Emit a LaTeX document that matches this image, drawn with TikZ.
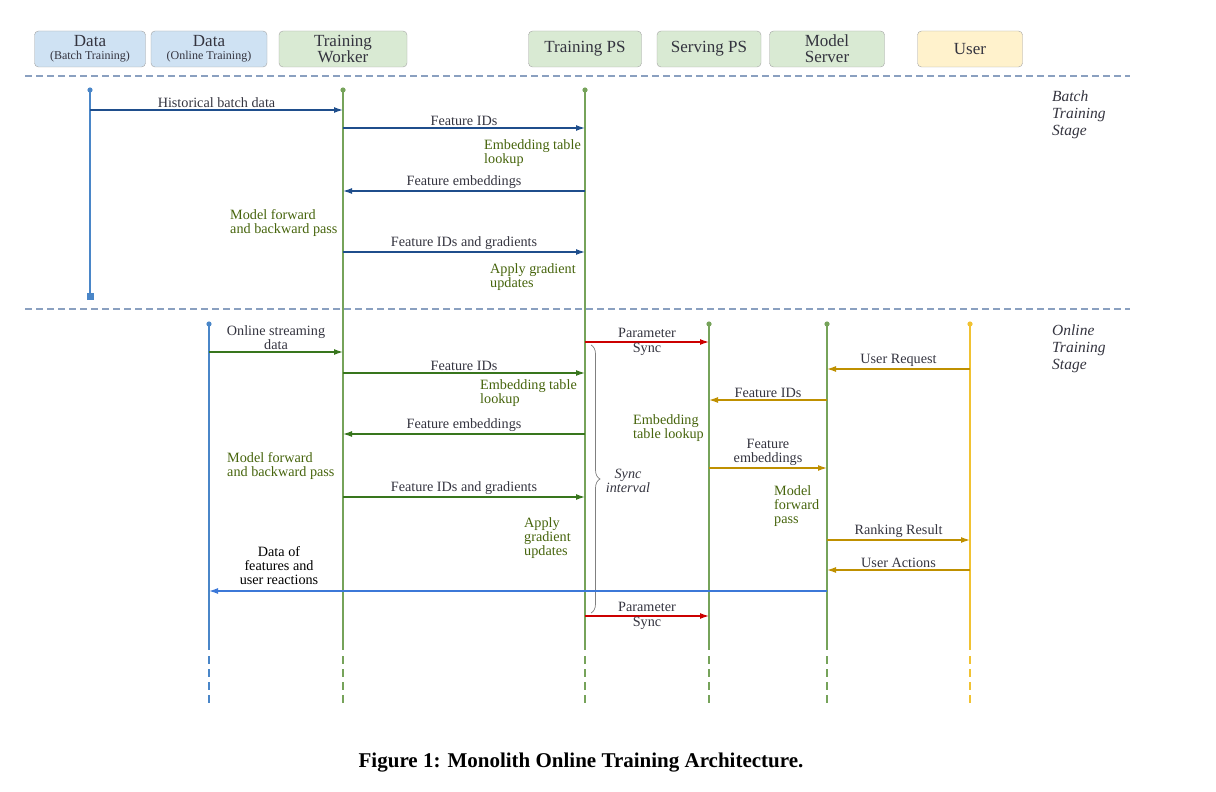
\documentclass[tikz,border=0pt]{standalone}
\usepackage{fontspec}
\setmainfont{Liberation Serif}
\usetikzlibrary{arrows.meta,positioning,decorations.pathreplacing}

\definecolor{boxgray}{HTML}{A3A3A3}
\definecolor{bluefill}{HTML}{CFE2F3}
\definecolor{greenfill}{HTML}{D9EAD3}
\definecolor{yellowfill}{HTML}{FFF2CC}
\definecolor{lifeblue}{HTML}{4A86C8}
\definecolor{lifegreen}{HTML}{76A35A}
\definecolor{lifeyellow}{HTML}{F1C232}
\definecolor{batchblue}{HTML}{1F4E8C}
\definecolor{feedblue}{HTML}{3C78D8}
\definecolor{onlinegreen}{HTML}{38761D}
\definecolor{gold}{HTML}{BF9000}
\definecolor{syncred}{HTML}{CC0000}
\definecolor{sepcol}{HTML}{8AA0C0}
\definecolor{txtgray}{HTML}{34343F}
\definecolor{annot}{HTML}{46640C}

\newcommand{\lblfont}{\fontsize{14.2}{14}\selectfont}

\begin{document}
\begin{tikzpicture}[x=1pt, y=-1pt,
	head/.style={rectangle, rounded corners=4pt, draw=boxgray, minimum height=36pt, align=center, inner sep=1pt, text=txtgray, font=\fontsize{17}{16}\selectfont},
	life/.style={line width=1.5pt},
	tail/.style={line width=1.5pt, dash pattern=on 8pt off 5pt},
	msg/.style={line width=1.3pt, -{Latex[length=9pt,width=6pt]}},
	lbl/.style={font=\lblfont, text=txtgray, inner sep=1.5pt, align=center},
	note/.style={font=\lblfont, text=annot, inner sep=0pt, align=left, anchor=west},
	stage/.style={font=\fontsize{15.5}{17}\selectfont\itshape, text=txtgray, inner sep=0pt, align=left, anchor=west}]

	\useasboundingbox (0,0) rectangle (1216,792);

	% Participants
	\node[head, fill=bluefill, minimum width=111pt] (dbb) at (90,49) {Data\\[-3pt]{\fontsize{12}{12}\selectfont (Batch Training)}};
	\node[head, fill=bluefill, minimum width=116pt] (dbo) at (209,49) {Data\\[-3pt]{\fontsize{12}{12}\selectfont (Online Training)}};
	\node[head, fill=greenfill, minimum width=128pt] (tw) at (343,49) {Training\\Worker};
	\node[head, fill=greenfill, minimum width=113pt] (tps) at (585,49) {Training PS};
	\node[head, fill=greenfill, minimum width=104pt] (sps) at (709,49) {Serving PS};
	\node[head, fill=greenfill, minimum width=115pt] (ms) at (827,49) {Model\\Server};
	\node[head, fill=yellowfill, minimum width=105pt] (usr) at (970,49) {User};

	% Stage separators
	\draw[sepcol, line width=1.2pt, dash pattern=on 7pt off 4pt] (25,76) -- (1130,76);
	\draw[sepcol, line width=1.2pt, dash pattern=on 7pt off 4pt] (25,309) -- (1130,309);
	\node[stage] (bstage) at (1052,115) {Batch\\Training\\Stage};
	\node[stage] (ostage) at (1052,349) {Online\\Training\\Stage};

	% Lifelines
	\draw[life, lifeblue] (dbb |- 0,90) -- (dbb |- 0,296);
	\fill[lifeblue] (dbb |- 0,90) circle (2.6pt);
	\fill[lifeblue] ([shift={(-3.5,-3.5)}]dbb |- 0,296) rectangle ([shift={(3.5,3.5)}]dbb |- 0,296);
	\foreach \p/\c/\t in {dbo/lifeblue/324, tw/lifegreen/90, tps/lifegreen/90, sps/lifegreen/324, ms/lifegreen/324, usr/lifeyellow/324} {
		\draw[life, \c] (\p |- 0,\t) -- (\p |- 0,650);
		\draw[tail, \c] (\p |- 0,656) -- (\p |- 0,704);
		\fill[\c] (\p |- 0,\t) circle (2.6pt);
	}

	% Batch training stage
	\draw[msg, batchblue] (dbb |- 0,110) -- node[lbl, above] {Historical batch data} (tw |- 0,110);
	\draw[msg, batchblue] (tw |- 0,128) -- node[lbl, above] {Feature IDs} (tps |- 0,128);
	\node[note] (blookup) at (484,153) {Embedding table\\lookup};
	\draw[msg, batchblue] (tps |- 0,191) -- node[lbl, above] {Feature embeddings} (tw |- 0,191);
	\node[note] (bpass) at (230,223) {Model forward\\and backward pass};
	\draw[msg, batchblue] (tw |- 0,252) -- node[lbl, above] {Feature IDs and gradients} (tps |- 0,252);
	\node[note] (bapply) at (490,277) {Apply gradient\\updates};

	% Online training stage
	\draw[msg, onlinegreen] (dbo |- 0,352) -- node[lbl, above] {Online streaming\\data} (tw |- 0,352);
	\draw[msg, onlinegreen] (tw |- 0,373) -- node[lbl, above] {Feature IDs} (tps |- 0,373);
	\node[note] (olookup) at (480,393) {Embedding table\\lookup};
	\draw[msg, onlinegreen] (tps |- 0,434) -- node[lbl, above] {Feature embeddings} (tw |- 0,434);
	\node[note] (opass) at (227,466) {Model forward\\and backward pass};
	\draw[msg, onlinegreen] (tw |- 0,497) -- node[lbl, above] {Feature IDs and gradients} (tps |- 0,497);
	\node[note] (oapply) at (524,538) {Apply\\gradient\\updates};

	% Parameter sync
	\draw[msg, syncred] (tps |- 0,342) -- node[lbl] {Parameter\\[1pt]Sync} (sps |- 0,342);
	\draw[msg, syncred] (tps |- 0,616) -- node[lbl] {Parameter\\[1pt]Sync} (sps |- 0,616);
	\draw[gray, line width=0.7pt, decorate, decoration={brace, amplitude=9pt}] (591,345) -- (591,613);
	\node[lbl, font=\lblfont\itshape] (sync) at (628,481) {Sync\\interval};

	% Serving
	\draw[msg, gold] (usr |- 0,369) -- node[lbl, above] {User Request} (ms |- 0,369);
	\draw[msg, gold] (ms |- 0,400) -- node[lbl, above] {Feature IDs} (sps |- 0,400);
	\node[note] (slookup) at (633,428) {Embedding\\table lookup};
	\draw[msg, gold] (sps |- 0,468) -- node[lbl, above] {Feature\\embeddings} (ms |- 0,468);
	\node[note] (sfwd) at (774,506) {Model\\forward\\pass};
	\draw[msg, gold] (ms |- 0,540) -- node[lbl, above] {Ranking Result} (usr |- 0,540);
	\draw[msg, gold] (usr |- 0,570) -- node[lbl, above] {User Actions} (ms |- 0,570);
	\draw[msg, feedblue] (ms |- 0,591) -- (dbo |- 0,591);
	\node[lbl, text=black] (feedback) at (279,566) {Data of\\features and\\user reactions};

	% Caption
	\node[font=\fontsize{21}{22}\selectfont\bfseries, inner sep=0pt] (cap) at (581,763) {Figure 1: Monolith Online Training Architecture.};
\end{tikzpicture}
\end{document}
